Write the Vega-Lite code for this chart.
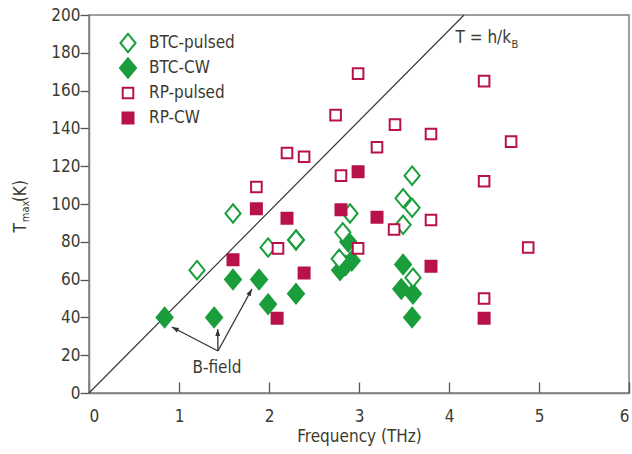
{
  "$schema": "https://vega.github.io/schema/vega-lite/v6.json",
  "autosize": {"type": "none"},
  "padding": {"left": 89, "top": 15, "right": 3, "bottom": 61},
  "width": 540,
  "height": 378,
  "background": "white",
  "config": {
    "view": {"stroke": "#7f7f7f", "strokeWidth": 1.5},
    "font": "DejaVu Sans Condensed, Roboto, sans-serif",
    "axis": {
      "grid": false,
      "domainColor": "#7f7f7f",
      "domainWidth": 1.5,
      "tickColor": "#555555",
      "tickWidth": 1.3,
      "labelOverlap": false,
      "labelFont": "DejaVu Sans Condensed, Roboto, sans-serif",
      "labelFontSize": 17,
      "labelColor": "#3b3b30",
      "titleFont": "DejaVu Sans Condensed, Roboto, sans-serif",
      "titleFontSize": 17,
      "titleFontWeight": "normal",
      "titleColor": "#3b3b30"
    },
    "text": {"font": "DejaVu Sans Condensed, Roboto, sans-serif", "color": "#3b3b30"}
  },
  "datasets": {
    "measurements": [
      {"series": "BTC-CW", "freq": 0.84, "tmax": 40},
      {"series": "BTC-CW", "freq": 1.39, "tmax": 40},
      {"series": "BTC-CW", "freq": 1.6, "tmax": 60},
      {"series": "BTC-CW", "freq": 1.89, "tmax": 60},
      {"series": "BTC-CW", "freq": 1.99, "tmax": 47},
      {"series": "BTC-CW", "freq": 2.3, "tmax": 52.5},
      {"series": "BTC-CW", "freq": 2.3, "tmax": 81},
      {"series": "BTC-CW", "freq": 2.88, "tmax": 80},
      {"series": "BTC-CW", "freq": 2.79, "tmax": 65},
      {"series": "BTC-CW", "freq": 2.85, "tmax": 67.5},
      {"series": "BTC-CW", "freq": 2.92, "tmax": 70},
      {"series": "BTC-CW", "freq": 3.49, "tmax": 68},
      {"series": "BTC-CW", "freq": 3.47, "tmax": 55},
      {"series": "BTC-CW", "freq": 3.6, "tmax": 52.5},
      {"series": "BTC-CW", "freq": 3.59, "tmax": 40},
      {"series": "BTC-pulsed", "freq": 1.2, "tmax": 65},
      {"series": "BTC-pulsed", "freq": 1.6, "tmax": 95},
      {"series": "BTC-pulsed", "freq": 1.99, "tmax": 77},
      {"series": "BTC-pulsed", "freq": 2.3, "tmax": 81},
      {"series": "BTC-pulsed", "freq": 2.78, "tmax": 71},
      {"series": "BTC-pulsed", "freq": 2.82, "tmax": 85},
      {"series": "BTC-pulsed", "freq": 2.9, "tmax": 95},
      {"series": "BTC-pulsed", "freq": 3.49, "tmax": 89},
      {"series": "BTC-pulsed", "freq": 3.49, "tmax": 103},
      {"series": "BTC-pulsed", "freq": 3.59, "tmax": 98},
      {"series": "BTC-pulsed", "freq": 3.59, "tmax": 115},
      {"series": "BTC-pulsed", "freq": 3.6, "tmax": 61},
      {"series": "RP-pulsed", "freq": 1.86, "tmax": 109},
      {"series": "RP-pulsed", "freq": 2.2, "tmax": 127},
      {"series": "RP-pulsed", "freq": 2.39, "tmax": 125},
      {"series": "RP-pulsed", "freq": 2.1, "tmax": 76.5},
      {"series": "RP-pulsed", "freq": 2.99, "tmax": 169},
      {"series": "RP-pulsed", "freq": 4.39, "tmax": 165},
      {"series": "RP-pulsed", "freq": 2.74, "tmax": 147},
      {"series": "RP-pulsed", "freq": 3.4, "tmax": 142},
      {"series": "RP-pulsed", "freq": 3.8, "tmax": 137},
      {"series": "RP-pulsed", "freq": 4.69, "tmax": 133},
      {"series": "RP-pulsed", "freq": 3.2, "tmax": 130},
      {"series": "RP-pulsed", "freq": 4.39, "tmax": 112},
      {"series": "RP-pulsed", "freq": 2.8, "tmax": 115},
      {"series": "RP-pulsed", "freq": 3.8, "tmax": 91.5},
      {"series": "RP-pulsed", "freq": 3.39, "tmax": 86.5},
      {"series": "RP-pulsed", "freq": 2.99, "tmax": 76.5},
      {"series": "RP-pulsed", "freq": 4.88, "tmax": 77},
      {"series": "RP-pulsed", "freq": 4.39, "tmax": 50},
      {"series": "RP-CW", "freq": 1.6, "tmax": 70.5},
      {"series": "RP-CW", "freq": 1.86, "tmax": 97.5},
      {"series": "RP-CW", "freq": 2.2, "tmax": 92.5},
      {"series": "RP-CW", "freq": 2.09, "tmax": 39.5},
      {"series": "RP-CW", "freq": 2.39, "tmax": 63.5},
      {"series": "RP-CW", "freq": 2.99, "tmax": 117},
      {"series": "RP-CW", "freq": 2.8, "tmax": 97},
      {"series": "RP-CW", "freq": 3.2, "tmax": 93},
      {"series": "RP-CW", "freq": 3.8, "tmax": 67},
      {"series": "RP-CW", "freq": 4.39, "tmax": 39.5}
    ]
  },
  "layer": [
    {
      "description": "Quantum limit T = h f / k_B (about 48 K per THz)",
      "data": {"values": [{"f1": 0, "t1": 0, "f2": 4.1676, "t2": 200}]},
      "mark": {"type": "rule", "color": "#3a3a3a", "strokeWidth": 1.2},
      "encoding": {
        "x": {"field": "f1", "type": "quantitative", "scale": {"domain": [0, 6]},
              "axis": {"values": [0, 1, 2, 3, 4, 5, 6], "format": "d", "labelOverlap": false, "tickSize": -11, "labelPadding": 26, "title": "Frequency (THz)", "titlePadding": 4}},
        "y": {"field": "t1", "type": "quantitative", "scale": {"domain": [0, 200]},
              "axis": {"values": [0, 20, 40, 60, 80, 100, 120, 140, 160, 180, 200], "tickCount": 11, "format": "d", "labelOverlap": false, "labelBound": false, "labelFlush": false, "labelSeparation": 0, "tickSize": 9, "labelPadding": 0, "labelFontSize": 17, "title": null}},
        "x2": {"field": "f2"},
        "y2": {"field": "t2"}
      }
    },
    {
      "data": {"name": "measurements"},
      "mark": {"type": "point", "strokeWidth": 2, "opacity": 1, "fillOpacity": 1, "size": 400},
      "encoding": {
        "x": {"field": "freq", "type": "quantitative"},
        "y": {"field": "tmax", "type": "quantitative",
              "axis": {"values": [0, 20, 40, 60, 80, 100, 120, 140, 160, 180, 200], "tickCount": 11, "format": "d", "labelOverlap": false, "labelBound": false, "labelFlush": false, "labelSeparation": 0, "tickSize": 9, "labelPadding": 0, "labelFontSize": 17, "title": null}},
        "shape": {"field": "series", "type": "nominal",
          "scale": {"domain": ["BTC-pulsed", "BTC-CW", "RP-pulsed", "RP-CW"],
                    "range": ["M-0.8,-0.97M0.8,0.97M0,-0.92L0.76,0L0,0.92L-0.76,0Z",
                              "M-0.8,-0.97M0.8,0.97M0,-0.97L0.8,0L0,0.97L-0.8,0Z",
                              "M-0.8,-0.97M0.8,0.97M-0.53,-0.53L0.53,-0.53L0.53,0.53L-0.53,0.53Z",
                              "M-0.8,-0.97M0.8,0.97M-0.55,-0.55L0.55,-0.55L0.55,0.55L-0.55,0.55Z"]},
          "legend": {"orient": "none", "legendX": 28, "legendY": 17, "title": null, "padding": 0,
                     "labelFontSize": 17, "labelFont": "DejaVu Sans Condensed, Roboto, sans-serif", "labelColor": "#3b3b30",
                     "symbolSize": 400, "symbolStrokeWidth": 2, "symbolOpacity": 1, "rowPadding": -3, "labelOffset": 10}},
        "fill": {"field": "series", "type": "nominal",
          "scale": {"domain": ["BTC-pulsed", "BTC-CW", "RP-pulsed", "RP-CW"],
                    "range": ["#ffffff", "#1a9e3c", "#ffffff", "#b8124a"]}},
        "stroke": {"field": "series", "type": "nominal",
          "scale": {"domain": ["BTC-pulsed", "BTC-CW", "RP-pulsed", "RP-CW"],
                    "range": ["#1a9e3c", "#1a9e3c", "#b8124a", "#b8124a"]}}
      }
    },
    {
      "description": "B-field arrows",
      "data": {"values": [
        {"f1": 1.433, "t1": 22.2, "f2": 0.92, "t2": 34.9},
        {"f1": 1.433, "t1": 22.2, "f2": 1.43, "t2": 33.8},
        {"f1": 1.433, "t1": 22.2, "f2": 1.81, "t2": 55}
      ]},
      "mark": {"type": "rule", "color": "#333333", "strokeWidth": 1.3},
      "encoding": {
        "x": {"field": "f1", "type": "quantitative"},
        "y": {"field": "t1", "type": "quantitative"},
        "x2": {"field": "f2"},
        "y2": {"field": "t2"}
      }
    },
    {
      "data": {"values": [{"f": 0.92, "t": 34.9}]},
      "mark": {"type": "point", "shape": "M0,0L0.7,2L-0.7,2Z", "size": 49, "filled": true, "color": "#333333", "opacity": 1, "angle": 297.6},
      "encoding": {"x": {"field": "f", "type": "quantitative"}, "y": {"field": "t", "type": "quantitative"}}
    },
    {
      "data": {"values": [{"f": 1.43, "t": 33.8}]},
      "mark": {"type": "point", "shape": "M0,0L0.7,2L-0.7,2Z", "size": 49, "filled": true, "color": "#333333", "opacity": 1, "angle": 0},
      "encoding": {"x": {"field": "f", "type": "quantitative"}, "y": {"field": "t", "type": "quantitative"}}
    },
    {
      "data": {"values": [{"f": 1.81, "t": 55}]},
      "mark": {"type": "point", "shape": "M0,0L0.7,2L-0.7,2Z", "size": 49, "filled": true, "color": "#333333", "opacity": 1, "angle": 28.7},
      "encoding": {"x": {"field": "f", "type": "quantitative"}, "y": {"field": "t", "type": "quantitative"}}
    },
    {
      "data": {"values": [{"label": "B-field", "f": 1.422, "t": 13.2}]},
      "mark": {"type": "text", "fontSize": 17, "align": "center", "baseline": "middle"},
      "encoding": {"x": {"field": "f", "type": "quantitative"}, "y": {"field": "t", "type": "quantitative"}, "text": {"field": "label"}}
    },
    {
      "data": {"values": [{"label": "T = h/k", "f": 4.69, "t": 185.2}]},
      "mark": {"type": "text", "fontSize": 17, "align": "right", "baseline": "alphabetic"},
      "encoding": {"x": {"field": "f", "type": "quantitative"}, "y": {"field": "t", "type": "quantitative"}, "text": {"field": "label"}}
    },
    {
      "data": {"values": [{"label": "B", "f": 4.695, "t": 182.6}]},
      "mark": {"type": "text", "fontSize": 11, "align": "left", "baseline": "alphabetic"},
      "encoding": {"x": {"field": "f", "type": "quantitative"}, "y": {"field": "t", "type": "quantitative"}, "text": {"field": "label"}}
    },
    {
      "description": "Rotated y-axis title T_max(K)",
      "data": {"values": [{"label": "T", "f": -0.7, "t": 89.9}]},
      "mark": {"type": "text", "fontSize": 17, "align": "right", "baseline": "alphabetic", "angle": 270},
      "encoding": {"x": {"field": "f", "type": "quantitative"}, "y": {"field": "t", "type": "quantitative"}, "text": {"field": "label"}}
    },
    {
      "data": {"values": [{"label": "(K)", "f": -0.7, "t": 101}]},
      "mark": {"type": "text", "fontSize": 17, "align": "left", "baseline": "alphabetic", "angle": 270},
      "encoding": {"x": {"field": "f", "type": "quantitative"}, "y": {"field": "t", "type": "quantitative"}, "text": {"field": "label"}}
    },
    {
      "data": {"values": [{"label": "max", "f": -0.672, "t": 90.4}]},
      "mark": {"type": "text", "fontSize": 11, "align": "left", "baseline": "alphabetic", "angle": 270},
      "encoding": {"x": {"field": "f", "type": "quantitative"}, "y": {"field": "t", "type": "quantitative"}, "text": {"field": "label"}}
    }
  ]
}
